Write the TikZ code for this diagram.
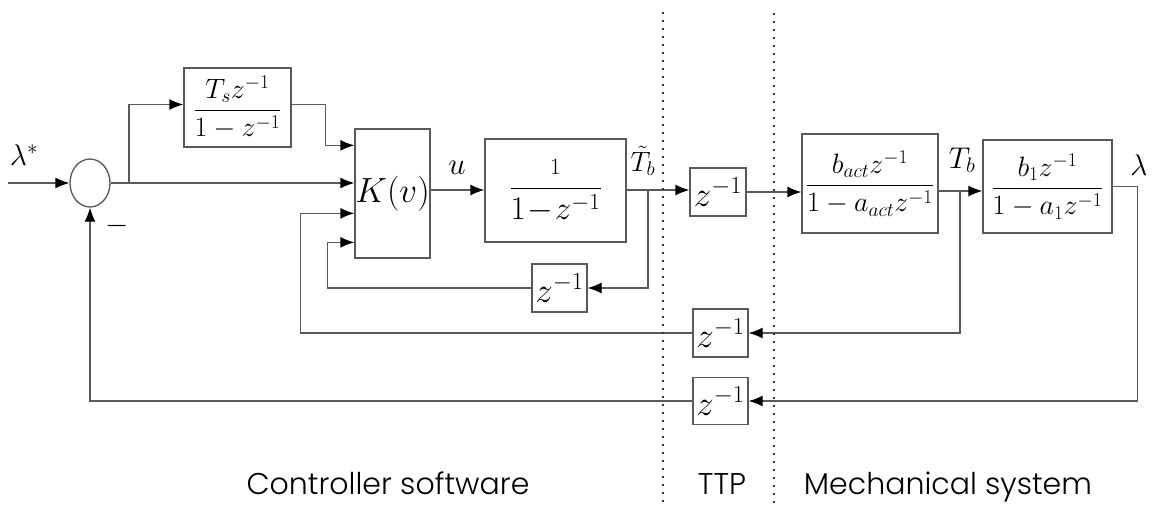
\RequirePackage{fix-cm}
\documentclass[tikz,border=0pt]{standalone}
\usepackage{amsmath}
\usepackage{fontspec}
\usetikzlibrary{arrows.meta}
\usetikzlibrary{calc}
\usetikzlibrary{shapes.geometric}
\newfontfamily\lblfont{Poppins}[UprightFont={* Light}]
\newcommand{\fs}[1]{\fontsize{#1}{#1}\selectfont}
\definecolor{LineGray}{rgb}{0.35,0.35,0.35}
\tikzset{
  blk/.style={draw=LineGray,line width=1.3pt,inner sep=0pt},
  sumnode/.style={ellipse,draw=LineGray,line width=1.3pt,minimum width=40pt,minimum height=48pt,inner sep=0pt},
  sig/.style={draw=LineGray,line width=1.3pt,-{Latex[length=14pt,width=11pt,color=black]}},
  ln/.style={draw=LineGray,line width=1.3pt},
  sep/.style={line width=1.6pt,dash pattern=on 1.6pt off 6.4pt,black!80},
  lbl/.style={font=\lblfont\fs{30},anchor=base}
}
\begin{document}
\begin{tikzpicture}[x=1pt,y=-1pt]
      \useasboundingbox (0,0) rectangle (1155,507);
      % blocks
      \node[sumnode] (sum) at (90,183) {};
      \node[blk,minimum width=107pt,minimum height=79pt] (tsblk) at (237.5,107.5) {\fs{28}$\dfrac{T_s z^{-1}}{1-z^{-1}}$};
      \node[blk,minimum width=75pt,minimum height=129pt] (kblk) at (392.5,193.5) {\fs{35}$K(v)$};
      \node[blk,minimum width=141pt,minimum height=103pt] (intblk) at (555.5,190.5) {\fs{33}$\dfrac{\scriptstyle 1}{1\!-\!z^{-1}}$};
      \node[blk,minimum width=56pt,minimum height=48pt] (dlyA) at (718,192) {\fs{35}$z^{-1}$};
      \node[blk,minimum width=136pt,minimum height=99pt] (actblk) at (870,183.5) {\fs{28}$\dfrac{b_{act}z^{-1}}{1-a_{act}z^{-1}}$};
      \node[blk,minimum width=129pt,minimum height=93pt] (plantblk) at (1047.5,186.5) {\fs{28}$\dfrac{b_1z^{-1}}{1-a_1z^{-1}}$};
      \node[blk,minimum width=55pt,minimum height=48pt] (dlyB) at (559.5,288) {\fs{35}$z^{-1}$};
      \node[blk,minimum width=55pt,minimum height=48pt] (dlyC) at (720.5,333) {\fs{35}$z^{-1}$};
      \node[blk,minimum width=55pt,minimum height=47pt] (dlyD) at (720.5,401) {\fs{35}$z^{-1}$};
      % signal names
      \node (lref) at (24,155) {\fs{30}$\lambda^*$};
      \node (neg) at (117,226) {\fs{30}$-$};
      \node (uname) at (457,168) {\fs{31}$u$};
      \node (ttname) at (643,161) {\fs{28}$\tilde{T}_b$};
      \node (tbname) at (962,160) {\fs{30}$T_b$};
      \node (lname) at (1139,165) {\fs{30}$\lambda$};
      % points on the lines
      \coordinate (lin) at (8,183);
      \coordinate (br) at (129,183);
      \coordinate (kin1) at ($(kblk.north west)+(0,17)$);
      \coordinate (kin3) at ($(kblk.north west)+(0,85)$);
      \coordinate (kin4) at ($(kblk.north west)+(0,114)$);
      \coordinate (ttbr) at (648,190);
      \coordinate (tbbr) at (960,191);
      % forward path
      \draw[sig] (lin) -- (sum.west);
      \draw[sig] (sum.east) -- (sum.east -| kblk.west);
      \draw[sig] (br) |- ($(tsblk.west)+(0,-3)$);
      \draw[sig] ($(tsblk.east)+(0,-3)$) -- ++(34,0) |- (kin1);
      \draw[sig] (kblk.east |- ttbr) -- (ttbr -| intblk.west);
      \draw[sig] (ttbr -| intblk.east) -- (ttbr -| dlyA.west);
      \draw[sig] (dlyA.east) -- (dlyA.east -| actblk.west);
      \draw[sig] (tbbr -| actblk.east) -- (tbbr -| plantblk.west);
      % feedback
      \draw[sig] (ttbr) |- (dlyB.east);
      \draw[sig] (dlyB.west) -| ($(kin4)+(-27,0)$) -- (kin4);
      \draw[sig] (tbbr) |- (dlyC.east);
      \draw[sig] (dlyC.west) -| ($(kin3)+(-54,0)$) -- (kin3);
      \draw[sig] (plantblk.east) -- ++(25,0) |- (dlyD.east);
      \draw[sig] (dlyD.west) -| (sum.south);
      % domains
      \draw[sep] (663,12) -- (663,507);
      \draw[sep] (774,13) -- (774,507);
      \node[lbl] (ctrl) at (388,494) {Controller software};
      \node[lbl] (ttp) at (722,494) {TTP};
      \node[lbl] (mech) at (948,494) {Mechanical system};
\end{tikzpicture}
\end{document}
